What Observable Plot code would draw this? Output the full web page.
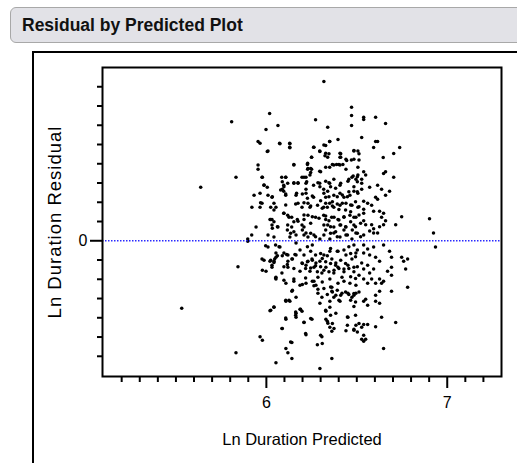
<!DOCTYPE html>
<html><head><meta charset="utf-8">
<script src="https://cdn.jsdelivr.net/npm/d3@7"></script>
<script src="https://cdn.jsdelivr.net/npm/@observablehq/plot@0.6"></script>
<style>
body{margin:0;background:#fff;width:517px;height:463px;overflow:hidden;position:relative;font-family:"Liberation Sans",Arial,sans-serif}
#title{position:absolute;left:10px;top:7px;width:530px;height:36px;background:#e2e2e7;border:1px solid #a8a8a8;border-radius:6px;box-sizing:border-box;z-index:2}
#title span{position:absolute;left:11px;top:7px;font-weight:bold;font-size:17.5px;color:#111;white-space:nowrap}
#outline{position:absolute;left:32px;top:51px;width:500px;height:420px;border-left:2px solid #000;border-top:2px solid #000;z-index:1}
#chart{position:absolute;left:0;top:0;z-index:0}
</style></head><body>
<div id="title"><span>Residual by Predicted Plot</span></div>
<div id="outline"></div>
<div id="chart"></div>
<script>
// [predicted, residual] pairs
const ptsOuter = [
[6.318,0.827],[6.018,0.661],[5.808,0.618],[6.471,0.693],[6.471,0.651],[6.471,0.599],[6.272,0.629],[6.339,0.589],[6.064,0.599],[5.998,0.578],
[5.954,0.516],[5.965,0.507],[5.954,0.393],[5.954,0.372],[5.832,0.330],[5.637,0.278],[5.932,0.236],[5.965,0.247],[5.920,0.174],[5.965,0.174],[5.943,0.071],
[5.919,0.030],[5.897,0.009],[5.897,-0.002],[5.843,-0.135],[5.965,-0.498],[5.832,-0.581],[6.108,-0.560],[6.119,-0.581],[6.141,-0.612],[6.053,-0.633],
[6.362,-0.612],[6.296,-0.664],[5.532,-0.351]
];
const ptsRightUpper = [
[6.538,0.641],[6.538,0.630],[6.604,0.641],[6.659,0.609],[6.527,0.536],[6.604,0.516],[6.615,0.516],[6.593,0.484],[6.737,0.484],[6.704,0.453],
[6.646,0.432],[6.538,0.359],[6.549,0.341],[6.648,0.349],[6.659,0.359],[6.704,0.330],[6.527,0.320],[6.527,0.299],[6.527,0.268],[6.571,0.278],
[6.615,0.289],[6.637,0.268],[6.681,0.257],[6.659,0.236],[6.538,0.205],[6.560,0.195],[6.582,0.184],[6.604,0.226],[6.615,0.216],[6.538,0.164],
[6.538,0.143],[6.593,0.153],[6.626,0.153],[6.648,0.143],[6.637,0.122],[6.748,0.125],[6.902,0.115],[6.715,0.083],[6.659,0.104],[6.648,0.083],
[6.626,0.073],[6.538,0.104],[6.549,0.083],[6.582,0.083],[6.593,0.062]
];
const ptsRightLower = [
[6.924,0.040],[6.935,-0.033],[6.593,0.040],[6.615,0.040],[6.538,0.030],[6.571,0.051],[6.648,-0.022],[6.681,-0.054],[6.692,-0.085],[6.748,-0.085],
[6.759,-0.106],[6.781,-0.095],[6.692,-0.137],[6.670,-0.158],[6.692,-0.179],[6.770,-0.147],[6.781,-0.241],[6.692,-0.262],[6.538,-0.022],[6.560,-0.043],
[6.593,-0.033],[6.538,-0.064],[6.571,-0.074],[6.604,-0.085],[6.626,-0.106],[6.527,-0.116],[6.560,-0.127],[6.593,-0.147],[6.538,-0.147],[6.571,-0.168],
[6.538,-0.199],[6.582,-0.199],[6.626,-0.199],[6.637,-0.220],[6.648,-0.210],[6.604,-0.220],[6.560,-0.220],[6.626,-0.262],[6.604,-0.283],[6.604,-0.314],
[6.626,-0.324],[6.538,-0.314],[6.560,-0.335],[6.549,-0.304],[6.637,-0.397],[6.715,-0.425],[6.604,-0.446],[6.527,-0.449],[6.538,-0.435],[6.560,-0.435],
[6.538,-0.491],[6.527,-0.512],[6.538,-0.522],[6.549,-0.512],[6.648,-0.559]
];
const ptsCoreUpper = [
[6.073,0.507],[6.129,0.507],[6.129,0.486],[6.009,0.466],[6.396,0.526],[6.350,0.516],[6.328,0.495],[6.261,0.486],[6.295,0.466],[6.328,0.455],
[6.339,0.434],[6.407,0.455],[6.407,0.434],[6.484,0.466],[6.506,0.466],[6.250,0.434],[6.152,0.393],[6.228,0.403],[6.228,0.372],[6.250,0.372],
[6.328,0.382],[6.350,0.382],[6.373,0.393],[6.407,0.393],[6.295,0.361],[6.440,0.424],[6.484,0.424],[6.440,0.372],[6.506,0.382],[5.976,0.330],
[6.085,0.330],[6.107,0.330],[6.197,0.330],[6.219,0.330],[6.241,0.341],[5.987,0.289],[6.096,0.289],[6.118,0.299],[6.152,0.299],[6.175,0.299],
[6.219,0.299],[6.261,0.289],[6.295,0.299],[6.328,0.309],[6.350,0.299],[6.373,0.320],[6.407,0.289],[6.451,0.309],[6.473,0.330],[6.495,0.320],
[6.506,0.341],[6.088,0.268],[6.096,0.257],[6.009,0.236],[6.031,0.226],[6.107,0.236],[6.164,0.236],[6.219,0.268],[6.219,0.247],[6.261,0.226],
[6.317,0.268],[6.339,0.257],[6.328,0.226],[6.373,0.236],[6.407,0.247],[6.429,0.226],[6.462,0.236],[6.484,0.257],[6.506,0.247],[5.976,0.195],
[6.042,0.195],[6.053,0.174],[6.175,0.195],[6.197,0.174],[6.230,0.195],[6.241,0.174],[6.283,0.184],[6.317,0.174],[6.350,0.195],[6.373,0.174],
[6.407,0.184],[6.440,0.195],[6.473,0.184],[6.506,0.174],[6.020,0.111],[6.031,0.111],[6.096,0.143],[6.118,0.132],[6.140,0.122],[6.175,0.101],
[6.208,0.111],[6.230,0.132],[6.272,0.122],[6.317,0.132],[6.328,0.111],[6.361,0.122],[6.396,0.111],[6.429,0.122],[6.462,0.132],[6.495,0.122],
[6.031,0.082],[6.064,0.071],[6.118,0.082],[6.140,0.071],[6.197,0.082],[6.208,0.071],[6.339,0.082],[6.373,0.071],[6.407,0.082],[6.440,0.071],[6.484,0.082],
[6.075,0.504],[6.130,0.504],[6.130,0.483],[6.263,0.486],[6.318,0.498],[6.350,0.516],[6.005,0.464],[6.296,0.464],[6.324,0.441],[6.346,0.452],
[6.411,0.452],[6.411,0.434],[6.401,0.396],[6.423,0.396],[6.484,0.469],[6.512,0.452],[6.470,0.420],[6.512,0.420],[6.250,0.434],[6.227,0.396],
[6.245,0.375],[6.152,0.396],[6.365,0.396],[6.388,0.396],[6.444,0.417],[6.300,0.359],[6.230,0.375],[6.245,0.354],[5.978,0.330],[6.107,0.330],
[6.088,0.307],[6.152,0.302],[6.175,0.302],[6.208,0.330],[6.223,0.307],[6.285,0.302],[6.296,0.281],[6.346,0.302],[6.355,0.281],[6.383,0.273],
[6.411,0.299],[6.456,0.320],[6.480,0.337],[6.503,0.333],[6.503,0.307],[6.484,0.281],[6.456,0.255],[6.503,0.255],[5.987,0.290],[6.005,0.278],
[6.033,0.229],[6.079,0.264],[6.097,0.281],[6.107,0.243],[6.167,0.247],[6.199,0.243],[6.227,0.221],[6.254,0.233],[6.318,0.247],[6.346,0.229],
[6.365,0.203],[6.392,0.229],[6.420,0.238],[6.448,0.229],[5.968,0.198],[6.024,0.174],[6.042,0.160],[6.107,0.186],[6.162,0.191],[6.208,0.198],
[6.245,0.181],[6.300,0.208],[6.328,0.195],[6.309,0.169],[6.337,0.174],[6.365,0.181],[6.392,0.191],[6.420,0.195],[6.401,0.163],[6.438,0.160],
[6.466,0.186],[6.493,0.203],[6.512,0.177],[6.466,0.151],[6.024,0.111],[6.042,0.099],[6.097,0.143],[6.125,0.122],[6.152,0.099],[6.171,0.111],
[6.208,0.134],[6.254,0.125],[6.245,0.091],[6.291,0.117],[6.328,0.129],[6.346,0.104],[6.318,0.082],[6.355,0.073],[6.374,0.122],[6.401,0.108],
[6.429,0.125],[6.411,0.082],[6.438,0.073],[6.466,0.099],[6.484,0.122],[6.512,0.134],[6.493,0.073],[6.521,0.091],[6.033,0.065],[6.061,0.073],
[6.116,0.056],[6.134,0.039],[6.152,0.047],[6.199,0.056],[6.208,0.030],[6.245,0.039],[6.272,0.021],[6.328,0.056],[6.355,0.039],[6.383,0.047],
[6.392,0.021],[6.429,0.056],[6.448,0.030],[6.475,0.056],[6.503,0.039],[6.521,0.021]
];
const ptsCoreLower = [
[6.009,0.030],[6.042,0.019],[6.130,0.019],[6.164,0.030],[6.164,-0.012],[6.219,0.040],[6.230,0.019],[6.263,0.030],[6.296,0.009],[6.318,0.030],
[6.351,0.009],[6.373,0.040],[6.407,0.019],[6.440,0.030],[6.473,0.009],[6.495,0.040],[6.009,-0.033],[6.075,-0.033],[5.976,-0.095],[6.053,-0.064],
[6.097,-0.064],[6.053,-0.085],[6.119,-0.074],[6.164,-0.074],[6.020,-0.106],[6.042,-0.106],[6.031,-0.127],[5.998,-0.158],[6.031,-0.137],[6.119,-0.106],
[6.141,-0.095],[6.119,-0.137],[6.197,-0.116],[6.219,-0.127],[6.186,-0.158],[6.230,-0.106],[6.252,-0.095],[6.263,-0.137],[6.274,-0.116],[6.241,-0.158],
[6.296,-0.106],[6.318,-0.074],[6.329,-0.137],[6.307,-0.168],[6.285,-0.189],[6.362,-0.095],[6.384,-0.116],[6.396,-0.137],[6.373,-0.168],[6.351,-0.054],
[6.396,-0.054],[6.440,-0.074],[6.473,-0.095],[6.495,-0.064],[6.451,-0.127],[6.484,-0.137],[6.429,-0.147],[6.053,-0.189],[6.053,-0.199],[6.086,-0.168],
[6.108,-0.220],[6.152,-0.199],[6.186,-0.231],[6.219,-0.220],[6.263,-0.210],[6.274,-0.231],[6.285,-0.252],[6.351,-0.199],[6.362,-0.241],[6.396,-0.220],
[6.418,-0.189],[6.429,-0.210],[6.462,-0.220],[6.495,-0.231],[6.141,-0.262],[6.285,-0.272],[6.307,-0.293],[6.296,-0.324],[6.108,-0.314],[6.130,-0.314],
[6.164,-0.293],[6.362,-0.262],[6.373,-0.293],[6.351,-0.314],[6.384,-0.283],[6.418,-0.272],[6.407,-0.314],[6.451,-0.272],[6.484,-0.283],[6.495,-0.272],
[6.473,-0.293],[6.042,-0.345],[6.020,-0.363],[6.186,-0.356],[6.197,-0.366],[6.164,-0.377],[6.164,-0.397],[6.108,-0.408],[6.208,-0.423],[6.252,-0.408],
[6.329,-0.366],[6.351,-0.345],[6.329,-0.408],[6.340,-0.429],[6.351,-0.449],[6.362,-0.470],[6.384,-0.377],[6.451,-0.397],[6.484,-0.342],[6.495,-0.439],
[6.484,-0.460],[6.440,-0.467],[6.086,-0.456],[6.219,-0.488],[6.141,-0.529],[6.307,-0.498],
[5.996,-0.026],[6.051,-0.022],[5.987,-0.101],[5.978,-0.153],[6.070,-0.031],[6.024,-0.101],[6.046,-0.095],[6.061,-0.078],[6.042,-0.113],[6.088,-0.078],
[6.112,-0.071],[6.144,-0.095],[6.116,-0.123],[6.097,-0.135],[6.152,-0.144],[6.158,-0.071],[6.186,-0.048],[6.208,-0.074],[6.245,-0.054],[6.227,-0.031],
[6.254,-0.022],[6.199,-0.118],[6.227,-0.109],[6.254,-0.101],[6.217,-0.144],[6.245,-0.141],[6.272,-0.130],[6.282,-0.161],[6.272,-0.074],[6.300,-0.066],
[6.309,-0.092],[6.337,-0.078],[6.328,-0.109],[6.355,-0.118],[6.300,-0.135],[6.318,-0.153],[6.346,-0.161],[6.374,-0.153],[6.383,-0.127],[6.401,-0.144],
[6.355,-0.040],[6.392,-0.054],[6.429,-0.048],[6.456,-0.031],[6.484,-0.022],[6.503,-0.048],[6.466,-0.066],[6.493,-0.083],[6.411,-0.101],[6.438,-0.118],
[6.456,-0.144],[6.484,-0.161],[6.503,-0.135],[6.429,-0.161],[6.466,-0.187],[6.493,-0.196],[6.512,-0.179],[6.051,-0.193],[6.097,-0.205],[6.152,-0.210],
[6.199,-0.227],[6.263,-0.234],[6.254,-0.210],[6.217,-0.193],[6.309,-0.214],[6.318,-0.248],[6.355,-0.240],[6.365,-0.266],[6.337,-0.279],[6.392,-0.257],
[6.411,-0.283],[6.401,-0.309],[6.438,-0.266],[6.456,-0.279],[6.484,-0.274],[6.512,-0.266],[6.466,-0.309],[6.493,-0.318],[6.107,-0.309],[6.125,-0.309],
[6.144,-0.257],[6.024,-0.361],[6.042,-0.344],[6.162,-0.370],[6.162,-0.387],[6.189,-0.356],[6.208,-0.425],[6.107,-0.401],[6.088,-0.456],[6.245,-0.404],
[6.217,-0.482],[6.328,-0.361],[6.355,-0.387],[6.337,-0.418],[6.365,-0.430],[6.374,-0.456],[6.448,-0.396],[6.493,-0.387],[6.512,-0.430],[6.484,-0.465],
[6.448,-0.439],[6.503,-0.474],[6.300,-0.491],[6.309,-0.534],[6.282,-0.540],[6.134,-0.526],[5.978,-0.517]
];
const xMajor = [6, 7];
const xMinor = [5.2,5.3,5.4,5.5,5.6,5.7,5.8,5.9,6.1,6.2,6.3,6.4,6.5,6.6,6.7,6.8,6.9,7.1,7.2];
const yMajor = [0];
const yMinor = [-0.6,-0.5,-0.4,-0.3,-0.2,-0.1,0.1,0.2,0.3,0.4,0.5,0.6,0.7,0.8];

const data = [...ptsOuter, ...ptsRightUpper, ...ptsRightLower, ...ptsCoreUpper, ...ptsCoreLower].map(([x, y]) => ({x, y}));
const chart = Plot.plot({
  width: 517, height: 463,
  marginLeft: 102, marginRight: 16, marginTop: 67, marginBottom: 87,
  x: {domain: [5.094, 7.30]},
  y: {domain: [-0.705, 0.90]},
  style: {fontFamily: "'Liberation Sans', Arial, sans-serif", fontSize: "16px", color: "#000", background: "transparent", overflow: "visible"},
  marks: [
    Plot.dot(data, {x: "x", y: "y", r: 1.75, fill: "#000", stroke: null}),
    Plot.ruleY([0], {stroke: "#2a2aff", strokeWidth: 1.5, strokeDasharray: "1.5,1.5"}),
    Plot.frame({stroke: "#000", strokeWidth: 2}),
    Plot.axisX(xMinor, {tickSize: 6, strokeWidth: 2, tickFormat: () => "", label: null}),
    Plot.axisX(xMajor, {tickSize: 12, strokeWidth: 2, tickPadding: 8, fontSize: 16, tickFormat: d => String(d), label: "Ln Duration Predicted", labelAnchor: "center", labelOffset: 68, labelArrow: "none"}),
    Plot.axisY(yMinor, {tickSize: 5, strokeWidth: 2, tickFormat: () => "", label: null}),
    Plot.axisY(yMajor, {tickSize: 12, strokeWidth: 2, tickPadding: 3, fontSize: 16, tickFormat: d => String(d), label: "Ln Duration Residual", labelAnchor: "center", labelOffset: 55, labelArrow: "none"})
  ]
});
const yLab = chart.querySelector('[aria-label="y-axis label"] text');
if (yLab) { yLab.style.fontSize = "18.5px"; yLab.style.letterSpacing = "1px"; }
const xLab = chart.querySelector('[aria-label="x-axis label"] text');
if (xLab) { xLab.style.fontSize = "16.5px"; }
document.getElementById("chart").appendChild(chart);
</script>
</body></html>
